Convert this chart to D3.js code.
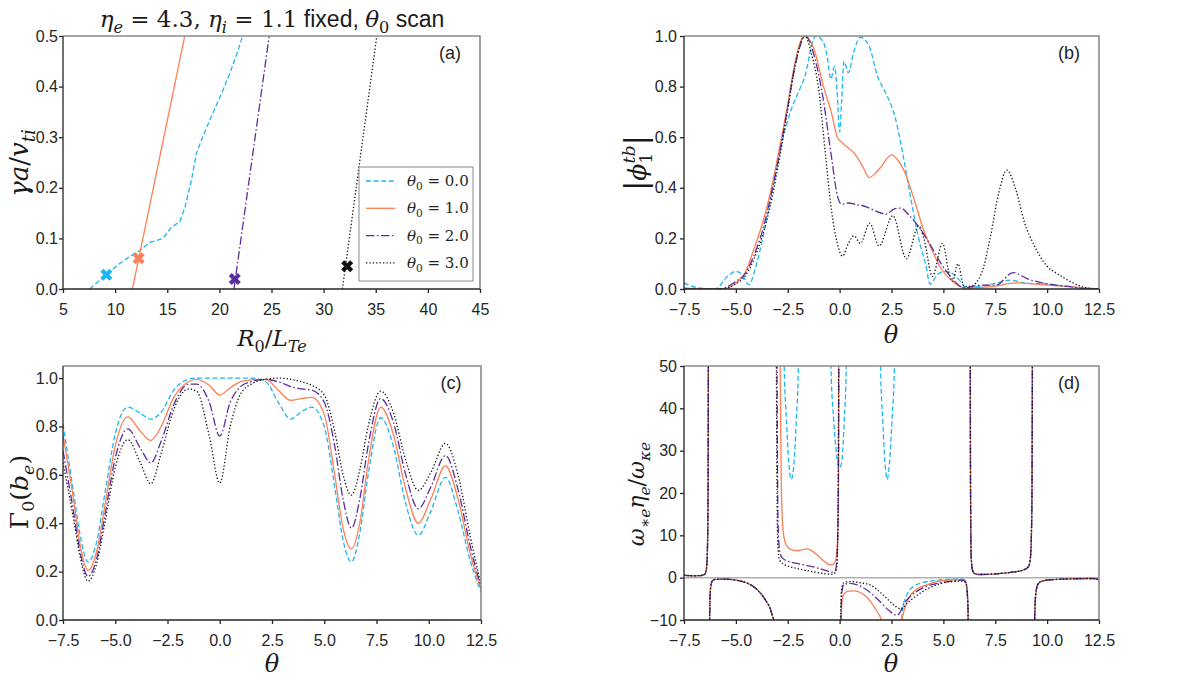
<!DOCTYPE html>
<html>
<head>
<meta charset="utf-8">
<script src="https://cdn.jsdelivr.net/npm/d3@7"></script>
<style>
  body { margin: 0; background: #fff; }
  svg { display: block; }
</style>
</head>
<body>
<svg id="fig" width="1204" height="679"></svg>
<script>
// ---------------- data ----------------
const seriesLabels = ["0.0", "1.0", "2.0", "3.0"];
const seriesColors = ["#1cb6f2", "#ff7f55", "#5c2d9c", "#111111"];
const seriesDash = ["5,2.6", null, "8.5,2.4,1.6,2.4", "1.3,2.1"];

// (a) growth rate vs R0/LTe
const aCyan = [[7.56,0],[9.16,0.028],[10.28,0.048],[11.4,0.064],[12.36,0.076],[13.32,0.092],[14.6,0.1],
  [15.4,0.122],[16.2,0.133],[16.68,0.16],[17.32,0.215],[17.8,0.268],[18.28,0.294],[19.08,0.334],
  [20.2,0.386],[21.0,0.426],[21.8,0.472],[22.22,0.5]];
const aOrange = [[11.66,0],[16.68,0.5]];
const aPurple = [[21.4,0],[24.78,0.5]];
const aBlack = [[31.8,0],[35.1,0.5]];
const aMarkers = [[9.16,0.028],[12.26,0.061],[21.48,0.02],[32.26,0.045]];

// (b) |phi_1^tb| vs theta
const bCyan = [[-7.5,0.024],[-6.8,0.004],[-6.0,0.0],[-5.4,0.05],[-5.0,0.07],[-4.7,0.057],[-4.38,0.017],
  [-4.0,0.10],[-3.58,0.25],[-3.17,0.42],[-2.75,0.59],[-2.33,0.71],[-1.92,0.79],[-1.64,0.85],[-1.36,0.96],
  [-1.15,1.0],[-0.81,0.98],[-0.6,0.92],[-0.42,0.83],[-0.25,0.88],[-0.12,0.78],[0.0,0.62],[0.1,0.75],
  [0.21,0.90],[0.42,0.855],[0.69,0.94],[1.0,0.995],[1.42,0.96],[1.83,0.84],[2.25,0.77],[2.67,0.68],
  [2.94,0.58],[3.36,0.39],[3.78,0.21],[4.19,0.08],[4.35,0.02],[4.75,0.06],[5.17,0.07],[5.72,0.04],
  [6.14,0.004],[6.7,0.01],[7.39,0.02],[8.22,0.035],[9.06,0.022],[10.0,0.02],[11.0,0.01],[12.0,0.002],[12.5,0.0]];
const bOrange = [[-7.5,0.004],[-6.5,0.0],[-5.67,0.0],[-5.0,0.024],[-4.56,0.063],[-4.14,0.155],[-3.72,0.26],
  [-3.31,0.39],[-2.89,0.56],[-2.5,0.73],[-2.19,0.88],[-1.92,0.97],[-1.71,1.0],[-1.22,0.945],[-0.81,0.81],
  [-0.39,0.695],[-0.11,0.60],[0.1,0.58],[0.3,0.565],[0.72,0.535],[1.14,0.48],[1.42,0.44],[1.69,0.455],
  [1.97,0.48],[2.5,0.53],[2.8,0.51],[3.15,0.46],[3.64,0.34],[4.06,0.23],[4.47,0.15],[4.89,0.08],
  [5.44,0.03],[6.0,0.004],[7.39,0.01],[8.5,0.024],[9.33,0.02],[10.0,0.015],[11.0,0.01],[12.0,0.003],[12.5,0.0]];
const bPurple = [[-7.5,0.0],[-5.8,0.0],[-5.0,0.03],[-4.56,0.06],[-4.14,0.13],[-3.72,0.23],[-3.31,0.37],
  [-2.89,0.54],[-2.5,0.72],[-2.125,0.89],[-1.64,1.0],[-1.22,0.92],[-0.81,0.76],[-0.39,0.52],[-0.11,0.37],
  [0.1,0.335],[0.42,0.34],[0.72,0.335],[1.28,0.325],[1.69,0.31],[2.25,0.296],[2.6,0.315],[2.94,0.32],
  [3.36,0.29],[3.78,0.25],[4.33,0.18],[4.89,0.10],[5.44,0.04],[6.0,0.005],[6.83,0.015],[7.53,0.015],
  [8.36,0.065],[9.06,0.04],[10.0,0.02],[11.0,0.01],[12.0,0.0],[12.5,0.0]];
const bBlack = [[-7.5,0.0],[-5.67,0.0],[-5.0,0.02],[-4.56,0.05],[-4.14,0.116],[-3.72,0.21],[-3.31,0.34],
  [-2.89,0.52],[-2.5,0.71],[-2.125,0.89],[-1.67,1.0],[-1.36,0.93],[-1.01,0.79],[-0.67,0.52],[-0.39,0.31],
  [-0.11,0.18],[0.14,0.13],[0.42,0.18],[0.69,0.21],[1.0,0.18],[1.45,0.26],[1.9,0.17],[2.56,0.29],
  [3.22,0.12],[3.81,0.25],[4.06,0.2],[4.47,0.05],[4.96,0.18],[5.31,0.05],[5.44,0.03],[5.7,0.10],
  [6.0,0.01],[6.28,0.01],[6.83,0.06],[7.25,0.2],[7.67,0.38],[8.06,0.47],[8.5,0.39],[8.92,0.26],
  [9.33,0.18],[10.0,0.09],[10.5,0.06],[11.0,0.035],[11.5,0.015],[12.0,0.003],[12.5,0.0]];

// (c) Gamma_0(b_e) vs theta, shared theta grid
const cTheta = [-7.5,-7.0,-6.7,-6.3,-5.9,-5.5,-5.0,-4.4,-3.8,-3.3,-2.8,-2.2,-1.5,-1.1,-0.5,0.0,0.5,1.0,1.5,
  2.2,2.8,3.4,3.9,4.4,5.0,5.5,5.9,6.3,6.7,7.1,7.7,8.3,8.9,9.5,10.1,10.8,11.4,12.0,12.5];
const cCyan = [0.81,0.53,0.36,0.24,0.32,0.52,0.77,0.88,0.855,0.83,0.86,0.95,0.995,1.0,1.0,1.0,1.0,1.0,1.0,
  0.985,0.9,0.83,0.86,0.88,0.8,0.55,0.33,0.24,0.36,0.6,0.836,0.72,0.48,0.35,0.45,0.59,0.45,0.24,0.115];
const cOrange = [0.765,0.5,0.32,0.205,0.28,0.47,0.72,0.84,0.78,0.742,0.8,0.92,0.985,0.995,0.97,0.93,0.96,
  0.985,0.993,0.995,0.95,0.908,0.915,0.92,0.85,0.6,0.38,0.294,0.4,0.65,0.88,0.77,0.54,0.40,0.5,0.637,0.5,0.27,0.125];
const cPurple = [0.70,0.45,0.29,0.18,0.25,0.43,0.67,0.79,0.71,0.65,0.74,0.89,0.975,0.975,0.9,0.76,0.9,0.965,
  0.985,0.995,0.985,0.965,0.955,0.95,0.9,0.72,0.5,0.38,0.5,0.72,0.915,0.82,0.6,0.46,0.55,0.68,0.54,0.3,0.135];
const cBlack = [0.65,0.42,0.27,0.16,0.23,0.4,0.63,0.745,0.65,0.563,0.69,0.87,0.955,0.945,0.76,0.566,0.8,0.935,
  0.975,0.995,1.0,0.995,0.985,0.97,0.93,0.78,0.6,0.516,0.62,0.8,0.946,0.86,0.66,0.536,0.61,0.73,0.6,0.34,0.145];

// (d) omega ratio vs theta (null = break at a pole; values past the axis run off the frame)
const dLeft = [[-7.5,0.55],[-7.0,0.45],[-6.7,0.5],[-6.5,0.8],[-6.42,2],[-6.37,7],[-6.34,20],[-6.32,70],[-6.3,null],
  [-6.29,-30],[-6.26,-8],[-6.22,-2.5],[-6.14,-0.8],[-6.0,-0.4],[-5.5,-0.35],[-5.0,-0.6],[-4.5,-1.2],
  [-4.0,-2.7],[-3.6,-5.1],[-3.3,-8.0],[-3.12,-12],[-3.08,-30],[-3.06,null]];
const dRight = [[6.24,null],[6.29,70],[6.31,20],[6.34,5],[6.4,1.8],[6.5,1.0],[6.7,0.75],[7.2,0.8],[7.8,1.0],
  [8.4,1.35],[8.9,1.9],[9.1,2.6],[9.18,4],[9.23,8],[9.27,20],[9.3,70],[9.32,null],[9.35,-70],[9.39,-12],
  [9.45,-4],[9.55,-1.6],[9.75,-0.8],[10.3,-0.45],[11.0,-0.3],[12.0,-0.2],[12.35,-0.25],[12.5,-0.7]];
const dCyanMid = [[-3.0,90],[-2.75,90],[-2.67,50],[-2.55,36],[-2.45,27],[-2.33,23.2],[-2.2,27],[-2.1,36],
  [-1.99,50],[-1.9,90],[-0.5,90],[-0.42,50],[-0.28,37],[-0.12,28],[0.0,25.9],[0.12,28],[0.22,37],[0.32,50],
  [0.4,90],[1.9,90],[1.97,50],[2.08,37],[2.19,27],[2.29,23.2],[2.4,27],[2.52,37],[2.64,50],[2.72,90],[2.85,null],
  [2.93,-60],[2.98,-12],[3.05,-7],[3.2,-4.5],[3.5,-2.3],[4.0,-1.2],[4.75,-0.6],[5.5,-0.35],[5.95,-0.35],
  [6.07,-0.8],[6.14,-2.5],[6.19,-8],[6.22,-40]];
const dOrangeMid = [[-3.0,90],[-2.88,60],[-2.82,25],[-2.74,12],[-2.6,8],[-2.4,6.8],[-2.1,6.4],[-1.8,6.6],
  [-1.56,6.8],[-1.3,6.2],[-1.0,5.0],[-0.7,3.7],[-0.45,3.0],[-0.3,3.2],[-0.2,4.0],[-0.12,7],[-0.06,18],
  [-0.02,80],[0.0,null],
  [0.03,-60],[0.07,-12],[0.13,-5],[0.25,-3.6],[0.45,-3.2],[0.72,-3.1],[1.0,-3.5],[1.28,-4.5],[1.5,-5.7],
  [1.69,-7.1],[1.97,-9.4],[2.1,-11],[2.5,-20],[2.9,-13],[3.0,-10],[3.15,-7],[3.35,-4.6],[3.7,-2.8],
  [4.2,-1.7],[4.75,-0.9],[5.3,-0.55],[5.9,-0.45],[6.05,-0.8],[6.13,-2.5],[6.19,-8],[6.22,-40]];
const dPurpleMid = [[-3.04,90],[-3.0,30],[-2.95,10],[-2.88,6],[-2.75,4.6],[-2.5,3.9],[-2.0,3.3],[-1.5,2.8],
  [-1.0,2.2],[-0.6,1.6],[-0.35,1.3],[-0.22,1.6],[-0.14,3.5],[-0.09,10],[-0.05,30],[-0.03,90],[-0.01,null],
  [0.02,-60],[0.06,-10],[0.12,-3],[0.2,-1.6],[0.5,-1.35],[1.0,-2.0],[1.4,-3.2],[1.83,-5.1],[2.39,-7.8],
  [2.74,-8.9],[2.9,-8.3],[3.08,-6.3],[3.35,-4.7],[3.64,-3.5],[4.2,-2.0],[4.75,-1.3],[5.4,-0.8],[5.9,-0.6],
  [6.05,-0.9],[6.13,-2.5],[6.19,-8],[6.22,-40]];
const dBlackMid = [[-3.07,90],[-3.03,30],[-2.98,8],[-2.9,4.2],[-2.7,3.2],[-2.4,2.6],[-2.0,2.1],[-1.5,1.6],
  [-1.0,1.15],[-0.6,0.85],[-0.35,0.8],[-0.2,1.3],[-0.13,3],[-0.09,10],[-0.06,30],[-0.04,90],[-0.02,null],
  [0.0,-60],[0.04,-10],[0.1,-2.5],[0.2,-1.2],[0.5,-0.95],[1.0,-1.2],[1.5,-1.8],[1.97,-3.5],[2.4,-5.5],
  [2.67,-6.7],[3.0,-7.4],[3.2,-6.3],[3.64,-4.5],[4.33,-2.4],[5.03,-1.2],[5.6,-0.85],[5.95,-0.8],
  [6.07,-1.1],[6.14,-2.8],[6.19,-8],[6.22,-40]];

// ---------------- drawing ----------------
const sans = "'Liberation Sans', Arial, sans-serif";
const serif = "'DejaVu Serif', serif";
const svg = d3.select("#fig");
const defs = svg.append("defs");

function mtext(sel, parts, fs) {
  let cur = 0;
  parts.forEach(p => {
    const shift = p.sub ? 0.25 * fs : p.sup ? -0.45 * fs : 0;
    const ts = sel.append("tspan")
      .attr("dy", shift - cur)
      .attr("font-size", (p.sub || p.sup) ? fs * 0.7 : (p.size || fs))
      .attr("font-style", p.i ? "italic" : "normal")
      .attr("font-family", p.sans ? sans : serif)
      .text(p.t);
    if (p.dx) ts.attr("dx", p.dx);
    cur = shift;
  });
}

function makePanel(box, xDom, yDom, xTicks, yTicks, xFmt, yFmt, tag, ypad) {
  const x = d3.scaleLinear().domain(xDom).range([box.l, box.r]);
  const y = d3.scaleLinear().domain(yDom).range([box.b, box.t]);
  defs.append("clipPath").attr("id", "clip" + tag).append("rect")
    .attr("x", box.l).attr("y", box.t).attr("width", box.r - box.l).attr("height", box.b - box.t);

  const gx = svg.append("g").attr("transform", `translate(0,${box.b})`)
    .call(d3.axisBottom(x).tickValues(xTicks).tickFormat(xFmt).tickSize(4).tickSizeOuter(0).tickPadding(11));
  const gy = svg.append("g").attr("transform", `translate(${box.l},0)`)
    .call(d3.axisLeft(y).tickValues(yTicks).tickFormat(yFmt).tickSize(4).tickSizeOuter(0).tickPadding(ypad));
  [gx, gy].forEach(g => {
    g.selectAll("text").attr("font-family", sans).attr("font-size", 16).attr("fill", "#262626");
    g.selectAll("line").attr("stroke", "#262626").attr("stroke-width", 1.3);
    g.select(".domain").remove();
  });

  const plot = svg.append("g").attr("clip-path", `url(#clip${tag})`);
  return { x, y, plot, box };
}

function frame(p) {
  const b = p.box;
  svg.append("path").attr("d", `M${b.l},${b.t}H${b.r}V${b.b}`)
    .attr("fill", "none").attr("stroke", "#8a8a8a").attr("stroke-width", 1.6);
  svg.append("path").attr("d", `M${b.l},${b.t}V${b.b}H${b.r}`)
    .attr("fill", "none").attr("stroke", "#262626").attr("stroke-width", 1.3);
}

function drawLine(p, data, i, curve) {
  const line = d3.line()
    .defined(d => d[1] !== null)
    .x(d => p.x(d[0])).y(d => p.y(d[1]))
    .curve(curve || d3.curveMonotoneX);
  p.plot.append("path").datum(data)
    .attr("d", line)
    .attr("fill", "none")
    .attr("stroke", seriesColors[i])
    .attr("stroke-width", 1.3)
    .attr("stroke-dasharray", seriesDash[i]);
}

function panelTag(p, t) {
  svg.append("text").attr("x", p.box.r - 30).attr("y", p.box.t + 23)
    .attr("text-anchor", "middle").attr("font-family", sans).attr("font-size", 18)
    .attr("fill", "#262626").text(t);
}

const f1 = d3.format(".1f");
const thetaTicks = d3.range(-7.5, 12.51, 2.5);

// ---- (a)
const pa = makePanel({ l: 63, r: 480, t: 36, b: 289 }, [5, 45], [0, 0.5],
  d3.range(5, 46, 5), d3.range(0, 0.51, 0.1), d3.format("d"), f1, "a", 1);
[aCyan, aOrange, aPurple, aBlack].forEach((d, i) => drawLine(pa, d, i, d3.curveLinear));
pa.plot.selectAll(".mk").data(aMarkers).enter().append("path")
  .attr("d", d3.symbol().type(d3.symbolCross).size(90))
  .attr("transform", d => `translate(${pa.x(d[0])},${pa.y(d[1])}) rotate(45)`)
  .attr("fill", (d, i) => seriesColors[i]);
frame(pa);
panelTag(pa, "(a)");

// legend
const lg = svg.append("g");
lg.append("rect").attr("x", 359).attr("y", 167).attr("width", 114).attr("height", 114)
  .attr("fill", "#fff").attr("stroke", "#8a8a8a").attr("stroke-width", 1);
seriesLabels.forEach((lab, i) => {
  const yy = 181 + i * 27.3;
  lg.append("line").attr("x1", 366).attr("x2", 395).attr("y1", yy).attr("y2", yy)
    .attr("stroke", seriesColors[i]).attr("stroke-width", 1.3).attr("stroke-dasharray", seriesDash[i]);
  const t = lg.append("text").attr("x", 407).attr("y", yy + 5).attr("fill", "#262626");
  mtext(t, [{ t: "θ", i: true }, { t: "0", sub: true }, { t: " = " + lab }], 15);
});

// ---- (b)
const pb = makePanel({ l: 684, r: 1099, t: 36, b: 289 }, [-7.5, 12.5], [0, 1],
  thetaTicks, d3.range(0, 1.01, 0.2), f1, f1, "b", 3);
[bCyan, bOrange, bPurple, bBlack].forEach((d, i) => drawLine(pb, d, i));
frame(pb);
panelTag(pb, "(b)");

// ---- (c)
const pc = makePanel({ l: 63, r: 481, t: 366, b: 620 }, [-7.5, 12.5], [0, 1.05],
  thetaTicks, d3.range(0, 1.01, 0.2), f1, f1, "c", 1);
[cCyan, cOrange, cPurple, cBlack].forEach((vals, i) =>
  drawLine(pc, cTheta.map((t, k) => [t, vals[k]]), i));
frame(pc);
panelTag(pc, "(c)");

// ---- (d)
const pd = makePanel({ l: 684, r: 1099, t: 366, b: 620 }, [-7.5, 12.5], [-10, 50],
  thetaTicks, d3.range(-10, 51, 10), f1, d3.format("d"), "d", 3);
pd.plot.append("line").attr("x1", pd.box.l).attr("x2", pd.box.r)
  .attr("y1", pd.y(0)).attr("y2", pd.y(0)).attr("stroke", "#b0b0b0").attr("stroke-width", 1.5);
[dCyanMid, dOrangeMid, dPurpleMid, dBlackMid].forEach((mid, i) =>
  drawLine(pd, dLeft.concat(mid, dRight), i));
frame(pd);
panelTag(pd, "(d)");

// ---- titles and axis labels
const title = svg.append("text").attr("x", 272).attr("y", 27).attr("text-anchor", "middle").attr("fill", "#1a1a1a");
mtext(title, [{ t: "η", i: true }, { t: "e", i: true, sub: true }, { t: " = 4.3,  " },
  { t: "η", i: true }, { t: "i", i: true, sub: true }, { t: " = 1.1" }, { t: " fixed, ", sans: true },
  { t: "θ", i: true }, { t: "0", sub: true }, { t: " scan", sans: true }], 23);

function xlabel(cx, by, parts, fs) {
  const t = svg.append("text").attr("x", cx).attr("y", by).attr("text-anchor", "middle").attr("fill", "#1a1a1a");
  mtext(t, parts, fs);
}
function ylabel(bx, cy, parts, fs) {
  const t = svg.append("text").attr("transform", `translate(${bx},${cy}) rotate(-90)`)
    .attr("text-anchor", "middle").attr("fill", "#1a1a1a");
  mtext(t, parts, fs);
}

xlabel(272, 346, [{ t: "R", i: true }, { t: "0", sub: true }, { t: "/" }, { t: "L", i: true }, { t: "Te", i: true, sub: true }], 23);
xlabel(891, 343, [{ t: "θ", i: true }], 24);
xlabel(272, 672, [{ t: "θ", i: true }], 24);
xlabel(891, 672, [{ t: "θ", i: true }], 24);

ylabel(28, 163, [{ t: "γ", i: true }, { t: "a", i: true }, { t: "/" }, { t: "v", i: true }, { t: "ti", i: true, sub: true }], 26);
ylabel(646, 163, [{ t: "|", size: 30 }, { t: "ϕ", i: true }, { t: "1", sub: true },
  { t: "tb", i: true, sup: true, dx: -11 }, { t: "|", size: 30 }], 25);
ylabel(28, 492, [{ t: "Γ" }, { t: "0", sub: true }, { t: "(" }, { t: "b", i: true }, { t: "e", i: true, sub: true }, { t: ")" }], 25);
ylabel(644, 494, [{ t: "ω", i: true }, { t: "∗e", i: true, sub: true }, { t: "η", i: true }, { t: "e", i: true, sub: true },
  { t: "/" }, { t: "ω", i: true }, { t: "κe", i: true, sub: true }], 22);
</script>
</body>
</html>
